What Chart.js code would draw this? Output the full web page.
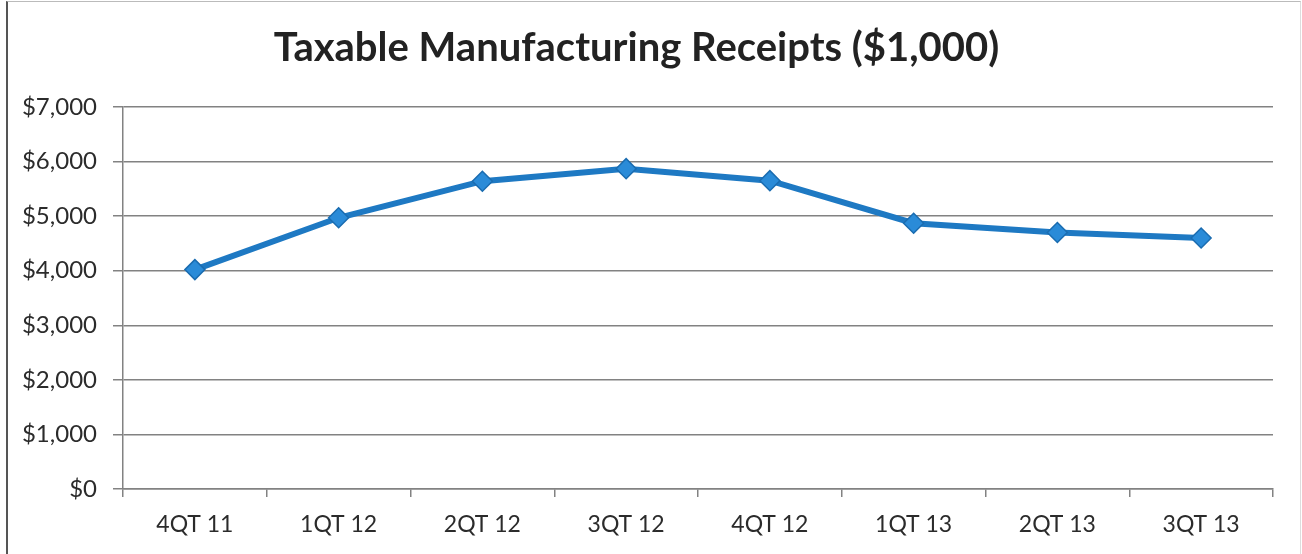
<!DOCTYPE html>
<html>
<head>
<meta charset="utf-8">
<script src="https://cdn.jsdelivr.net/npm/chart.js@4"></script>
<style>
  html, body { margin: 0; padding: 0; background: #fff; }
  #wrap { position: relative; width: 1302px; height: 554px; overflow: hidden; }
  #frame { position: absolute; left: 6px; top: 1px; width: 1292px; height: 560px;
           border-left: 2px solid #555; border-top: 1px solid #bbb; border-right: 1px solid #ddd; }
  canvas { position: absolute; left: 0; top: 0; }
</style>
</head>
<body>
<div id="wrap">
  <div id="frame"></div>
  <canvas id="c" width="1302" height="554"></canvas>
</div>
<script>
const categories = ["4QT 11", "1QT 12", "2QT 12", "3QT 12", "4QT 12", "1QT 13", "2QT 13", "3QT 13"];
const receipts = [4020, 4970, 5640, 5870, 5650, 4870, 4700, 4600];
const titleText = "Taxable Manufacturing Receipts ($1,000)";

const FONT = "Lato, 'Open Sans', sans-serif";
const GRID = "#828282";

new Chart(document.getElementById("c"), {
  type: "line",
  data: {
    labels: categories,
    datasets: [{
      data: receipts,
      borderColor: "#1e79c3",
      borderWidth: 6,
      pointStyle: "rectRot",
      pointRadius: 10,
      pointHoverRadius: 10,
      pointBackgroundColor: "#2a8bd8",
      pointBorderColor: "#1a6cb0",
      pointBorderWidth: 1.5,
      tension: 0
    }]
  },
  options: {
    responsive: false,
    animation: false,
    devicePixelRatio: 1,
    layout: { padding: { left: 0, right: 29, top: 0, bottom: 0 } },
    plugins: {
      legend: { display: false },
      tooltip: { enabled: false },
      title: {
        display: true,
        text: titleText,
        color: "#222",
        font: { family: FONT, size: 40, weight: "bold" },
        padding: { top: 24, bottom: 35 }
      }
    },
    scales: {
      x: {
        offset: true,
        grid: { offset: true, drawOnChartArea: false, drawTicks: true, tickLength: 8, color: GRID, lineWidth: 1.5 },
        border: { display: true, color: GRID, width: 1.5 },
        ticks: { color: "#2b2b2b", font: { family: FONT, size: 23 }, padding: 14, maxRotation: 0 },
        afterFit: (s) => { s.height = 65; }
      },
      y: {
        min: 0, max: 7000,
        ticks: {
          stepSize: 1000,
          color: "#2b2b2b",
          font: { family: FONT, size: 24 },
          padding: 16,
          callback: (v) => "$" + v.toLocaleString("en-US")
        },
        grid: { color: GRID, lineWidth: 1.5, tickLength: 10 },
        border: { display: true, color: GRID, width: 1.5 },
        afterFit: (s) => { s.width = 123; }
      }
    }
  }
});
</script>
</body>
</html>
